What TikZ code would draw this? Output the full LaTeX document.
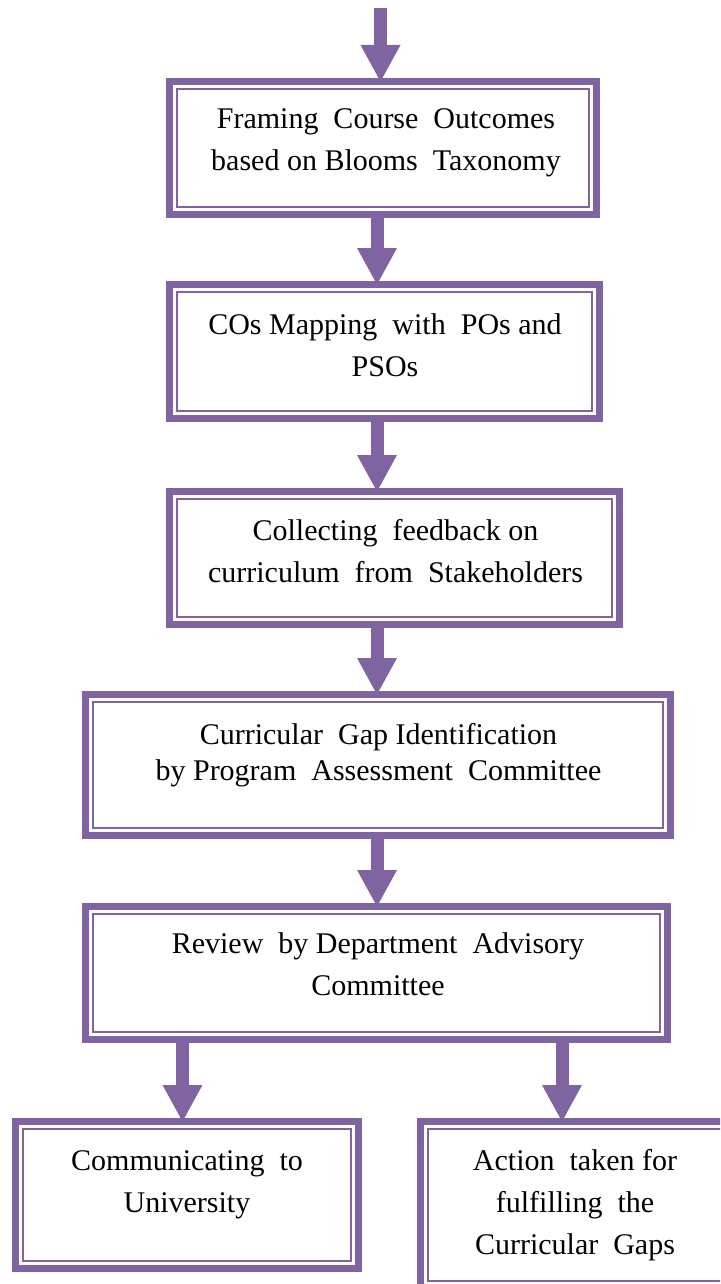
\documentclass[tikz,border=0pt]{standalone}
\usepackage{fontspec}
\setmainfont{Liberation Serif}
\usetikzlibrary{arrows.meta,calc}
\definecolor{pur}{RGB}{128,100,162}
\begin{document}
\begin{tikzpicture}[x=1pt,y=-1pt,
  box/.style={draw=pur, line width=7pt, outer sep=0pt, inner sep=0pt, fill=white},
  inner/.style={draw=pur, line width=2pt},
  txt/.style={font=\fontsize{30}{42}\selectfont, align=center, inner sep=0pt, outer sep=0pt, anchor=base},
  arr/.style={draw=pur, line width=13pt, -{Triangle[width=40pt,length=36.5pt,line width=0pt]}}]
\useasboundingbox (0,0) rectangle (720,1284);
\clip (0,0) rectangle (720,1284);
% boxes
\node[box, minimum width=427pt, minimum height=133pt] (b1) at (383,148) {};
\node[box, minimum width=430pt, minimum height=134pt] (b2) at (384.5,351.5) {};
\node[box, minimum width=450pt, minimum height=133pt] (b3) at (394.5,558) {};
\node[box, minimum width=585pt, minimum height=141pt] (b4) at (378,765) {};
\node[box, minimum width=582pt, minimum height=133pt] (b5) at (376.5,973) {};
\node[box, minimum width=343pt, minimum height=147pt] (b6) at (187,1195) {};
\node[box, minimum width=309pt, minimum height=167pt] (b7) at (575,1205) {};
\foreach \n in {b1,b2,b3,b4,b5,b6,b7}
  \draw[inner] ($(\n.north west)+(7.5,7.5)$) rectangle ($(\n.south east)+(-7.5,-7.5)$);
% texts (anchor base = baseline of last line)
\node[txt] (t1) at (386,171) {Framing\ \ Course\ \ Outcomes\\based on Blooms\ \ Taxonomy};
\node[txt] (t2) at (385,376) {COs Mapping\ \ with\ \ POs and\\PSOs};
\node[txt] (t3) at (395.5,582) {Collecting\ \ feedback on\\curriculum\ \ from\ \ Stakeholders};
\node[txt, font=\fontsize{30}{36}\selectfont] (t4) at (378.5,780) {Curricular\ \ Gap Identification\\by Program\ \ Assessment\ \ Committee};
\node[txt] (t5) at (378,995) {Review\ \ by Department\ \ Advisory\\Committee};
\node[txt] (t6) at (187,1212) {Communicating\ \ to\\University};
\node[txt] (t7) at (575,1254) {Action\ \ taken for\\fulfilling\ \ the\\Curricular\ \ Gaps};
% arrows
\coordinate (a0) at (380.5,8);
\coordinate (ax) at (377,0);
\coordinate (al) at (182.5,0);
\coordinate (ar) at (562,0);
\draw[arr] (a0) -- (a0 |- b1.north);
\draw[arr] (b1.south -| ax) -- (b2.north -| ax);
\draw[arr] (b2.south -| ax) -- (b3.north -| ax);
\draw[arr] (b3.south -| ax) -- (b4.north -| ax);
\draw[arr] (b4.south -| ax) -- (b5.north -| ax);
\draw[arr] (b5.south -| al) -- (b6.north -| al);
\draw[arr] (b5.south -| ar) -- (b7.north -| ar);
\end{tikzpicture}
\end{document}
